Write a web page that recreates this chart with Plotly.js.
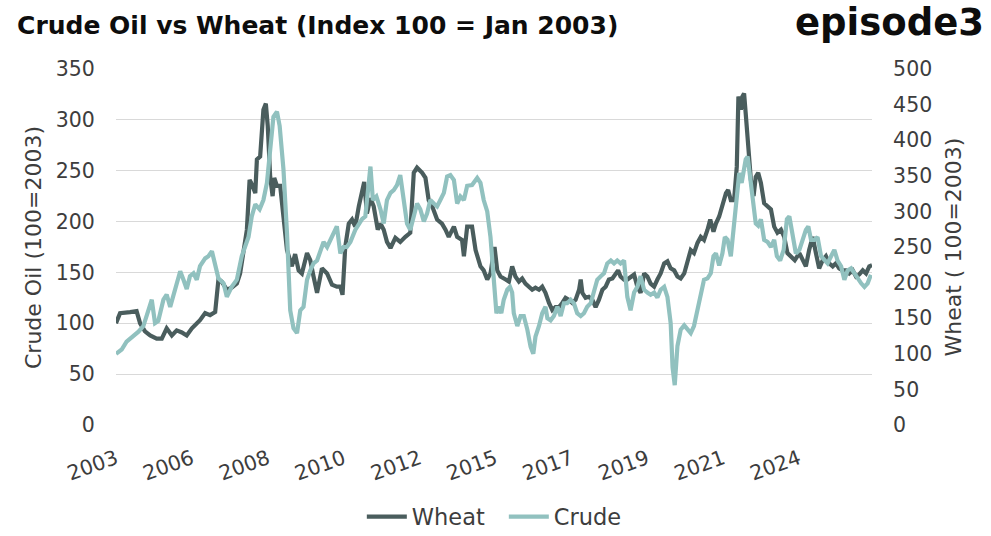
<!DOCTYPE html>
<html>
<head>
<meta charset="utf-8">
<script src="https://cdn.plot.ly/plotly-3.0.1.min.js"></script>
<style>html,body{margin:0;padding:0;background:#fff;}#chart{width:991px;height:536px;}</style>
</head>
<body>
<div id="chart"></div>
<script>
// Period index (approx. months from Jan 2003) and index values (100 = Jan 2003)
const wheatX = [0,1.5,5.2,7.6,8.9,10.7,12.6,15.0,16.9,18.7,20.6,22.4,24.3,26.1,28.0,29.8,31.0,32.9,34.7,36.6,37.8,39.0,40.9,42.7,44.6,45.8,47.1,48.3,49.3,50.1,51.4,52.0,53.2,53.8,54.4,55.3,56.0,56.9,57.8,58.4,59.4,60.6,61.8,63.1,64.9,66.1,67.4,68.6,70.5,71.7,72.9,74.2,76.0,77.9,79.7,81.5,82.8,83.6,84.6,85.9,87.1,88.3,89.6,90.8,91.6,92.6,93.9,95.1,96.6,97.6,98.8,100.0,101.3,103.1,104.9,106.8,108.6,109.9,111.1,113.0,114.2,115.4,116.7,118.5,120.3,121.6,122.8,124.7,125.9,127.7,128.4,129.6,131.4,132.7,134.5,135.7,137.0,138.2,139.7,140.7,141.9,143.8,145.0,146.2,147.4,148.7,149.9,151.1,152.4,153.6,154.8,156.1,157.3,158.5,159.8,161.0,162.2,163.5,164.7,165.9,167.2,168.4,169.6,170.9,171.5,172.1,173.3,174.5,175.8,177.0,178.2,179.5,180.7,181.9,183.2,184.4,185.3,186.2,187.5,188.7,189.9,191.2,192.4,193.6,194.9,196.1,197.3,198.6,199.8,201.0,202.3,203.5,204.7,206.0,207.2,208.4,209.7,210.9,212.1,213.3,214.6,215.8,217.0,218.3,219.3,220.5,221.4,222.6,223.8,225.1,225.9,226.9,228.1,229.1,229.7,230.6,231.2,231.8,232.4,233.3,234.3,235.3,236.1,237.0,238.0,239.2,240.5,241.7,242.9,244.1,245.4,246.6,247.8,249.1,250.5,252.2,253.4,254.6,255.8,257.1,258.3,259.5,260.8,262.0,263.2,264.5,265.7,266.9,268.2,269.4,270.6,271.9,273.1,274.3,275.6,276.8,278.0,279.0];
const wheatY = [100,110,111,112,100,92,88,85,85,95,88,93,91,88,95,100,103,110,108,111,143,141,133,135,139,149,169,192,241,237,228,261,264,287,310,316,294,244,225,243,235,235,202,172,156,168,152,149,169,162,146,130,154,149,138,136,136,128,175,198,202,195,215,228,239,208,223,215,192,198,192,180,174,184,180,185,189,248,253,248,243,221,215,202,198,192,185,195,185,182,166,195,195,172,156,152,143,149,175,152,146,143,141,156,146,141,144,139,136,133,135,133,136,130,120,113,116,116,120,125,123,120,123,133,143,130,125,126,123,116,123,133,136,143,144,149,152,146,143,143,146,148,136,130,149,146,139,136,143,149,159,161,154,152,146,144,149,159,172,169,179,185,182,192,202,190,198,205,215,228,231,221,221,254,323,310,323,326,306,277,241,225,244,248,238,218,215,212,195,189,192,185,169,166,162,169,162,156,172,185,169,154,162,166,159,156,159,154,152,152,149,152,146,148,152,149,156,157];

const crudeX = [0,2.1,3.9,6.4,8.3,10.1,11.3,13.2,14.4,15.6,17.5,18.7,20.0,21.8,23.7,24.9,26.1,27.3,28.6,29.8,31.0,32.9,34.1,35.4,36.6,37.8,39.7,40.9,42.7,44.6,46.4,47.7,48.9,50.1,51.4,53.0,54.4,55.7,56.9,58.1,59.4,60.4,61.8,63.1,64.3,65.5,66.8,68.0,69.2,70.5,71.7,72.9,74.2,75.4,76.6,77.9,79.1,80.3,81.5,82.8,84.0,85.2,86.5,88.3,89.6,90.8,92.0,93.2,93.9,94.8,96.1,97.6,98.8,100.0,101.3,102.5,103.7,104.9,106.2,107.4,108.6,109.9,111.1,112.3,113.6,114.8,116.0,117.3,118.5,119.7,121.0,122.2,123.4,124.7,125.9,127.1,128.4,129.6,131.4,133.3,134.5,135.7,137.0,138.2,139.4,140.4,141.3,142.2,143.1,144.4,145.4,146.2,146.8,148.1,149.3,150.5,151.8,153.0,154.0,154.8,156.1,157.3,158.5,159.2,160.4,161.6,162.9,164.1,165.3,166.5,167.8,169.0,170.2,171.5,172.7,173.9,175.2,176.4,177.6,178.9,180.1,181.3,182.6,183.8,185.0,186.2,187.5,188.7,189.9,191.2,192.4,193.6,194.9,196.1,197.3,198.6,199.8,201.0,202.3,203.5,204.7,205.4,206.2,207.2,208.4,209.7,210.9,212.1,213.3,214.6,215.8,217.0,218.3,219.5,220.5,221.4,222.6,223.8,224.7,225.7,226.9,228.1,229.4,230.0,230.9,231.6,232.4,233.1,234.1,234.9,236.1,237.0,238.0,239.2,240.5,241.7,242.9,243.9,245.1,246.4,247.6,248.5,249.7,250.9,252.2,253.4,254.6,255.5,256.5,257.7,258.9,260.2,261.4,262.6,263.9,265.1,266.3,267.6,268.8,270.0,271.3,272.5,273.7,275.0,276.2,277.4,278.6];
const crudeY = [100,106,117,124,131,139,153,176,143,146,176,183,166,190,216,204,191,209,213,204,223,234,237,244,223,206,199,180,194,204,237,250,264,293,310,303,316,340,387,433,440,420,359,270,161,136,129,161,166,204,217,227,231,246,257,250,260,270,279,241,250,250,257,274,283,289,293,340,363,316,321,303,283,316,326,330,337,351,316,283,274,293,311,303,286,297,316,311,307,316,326,349,351,344,311,321,316,336,337,347,340,316,300,264,204,157,166,157,176,190,194,186,157,139,153,153,134,110,100,124,139,157,166,150,147,153,166,153,171,171,176,171,157,153,157,166,171,186,204,209,213,227,231,227,231,227,231,180,161,186,194,209,190,186,183,186,179,190,194,180,143,81,56,111,134,140,134,129,139,161,186,204,206,213,237,241,224,241,264,260,237,279,333,354,340,354,373,377,349,316,283,280,289,260,257,250,260,237,231,246,289,293,270,241,246,260,274,279,260,260,264,237,231,227,237,246,231,223,204,217,220,213,204,199,194,199,211];

const tickVals = [0,28,56,84,112,140,168,196,224,252];
const tickText = ['2003','2006','2008','2010','2012','2015','2017','2019','2021','2024'];

const leftTicks = [0,50,100,150,200,250,300,350];
const rightTicks = [0,50,100,150,200,250,300,350,400,450,500];

const FONT = '"DejaVu Sans", Lato, sans-serif';
const TXT = '#3d3d3d';

const traces = [
  {x: wheatX, y: wheatY, name: 'Wheat', type: 'scatter', mode: 'lines',
   line: {color: '#4a5d5d', width: 4.2}, yaxis: 'y'},
  {x: crudeX, y: crudeY, name: 'Crude', type: 'scatter', mode: 'lines',
   line: {color: '#91c1bf', width: 4.2}, yaxis: 'y2'}
];

const layout = {
  width: 991, height: 536,
  margin: {l: 116, r: 119, t: 69, b: 111},
  paper_bgcolor: '#fff', plot_bgcolor: '#fff',
  font: {family: FONT, color: TXT, size: 20},
  title: {text: 'Crude Oil vs Wheat (Index 100 = Jan 2003)', x: 0.0172, xanchor: 'left',
          y: 0.953, yanchor: 'middle', xref: 'container',
          font: {family: FONT, size: 25, weight: 'bold', color: '#0d0d0d'}},
  xaxis: {range: [0, 279], tickmode: 'array', tickvals: tickVals, ticktext: tickText,
          tickangle: -20, showgrid: false, zeroline: false, showline: false,
          ticks: 'outside', ticklen: 13, tickcolor: 'rgba(0,0,0,0)', automargin: false,
          tickfont: {size: 20.5, color: TXT}},
  yaxis: {range: [0, 350], tickmode: 'array', tickvals: leftTicks, automargin: false,
          showgrid: true, gridcolor: '#d9d9d9', gridwidth: 1, zeroline: false, showline: false,
          ticks: 'outside', ticklen: 16, tickcolor: 'rgba(0,0,0,0)',
          tickfont: {size: 20.5, color: TXT}},
  yaxis2: {range: [0, 500], tickmode: 'array', tickvals: rightTicks, overlaying: 'y', side: 'right',
           showgrid: false, zeroline: false, showline: false, automargin: false,
           ticks: 'outside', ticklen: 16, tickcolor: 'rgba(0,0,0,0)',
           tickfont: {size: 20.5, color: TXT},
           title: {text: 'Wheat ( 100=2003)', standoff: 14, font: {size: 22, color: TXT}}},
  legend: {orientation: 'h', x: 0.513, xanchor: 'center', xref: 'paper',
           y: 0.0354, yanchor: 'middle', yref: 'container',
           font: {size: 22.5, color: TXT}, itemwidth: 40, entrywidth: 87, entrywidthmode: 'pixels',
           traceorder: 'normal'},
  showlegend: true,
  annotations: [
    {text: 'Crude Oil (100=2003)', xref: 'paper', yref: 'paper', x: -0.1098, xanchor: 'center',
     y: 0.5, yanchor: 'middle', textangle: -90, showarrow: false,
     font: {family: FONT, size: 22, color: TXT}},
    {text: 'episode3', xref: 'paper', yref: 'paper', x: 1.151, xanchor: 'right',
     y: 1.13, yanchor: 'middle', showarrow: false,
     font: {family: FONT, size: 37, weight: 'bold', color: '#0d0d0d'}}
  ]
};

Plotly.newPlot('chart', traces, layout, {staticPlot: true, displayModeBar: false});
</script>
</body>
</html>
